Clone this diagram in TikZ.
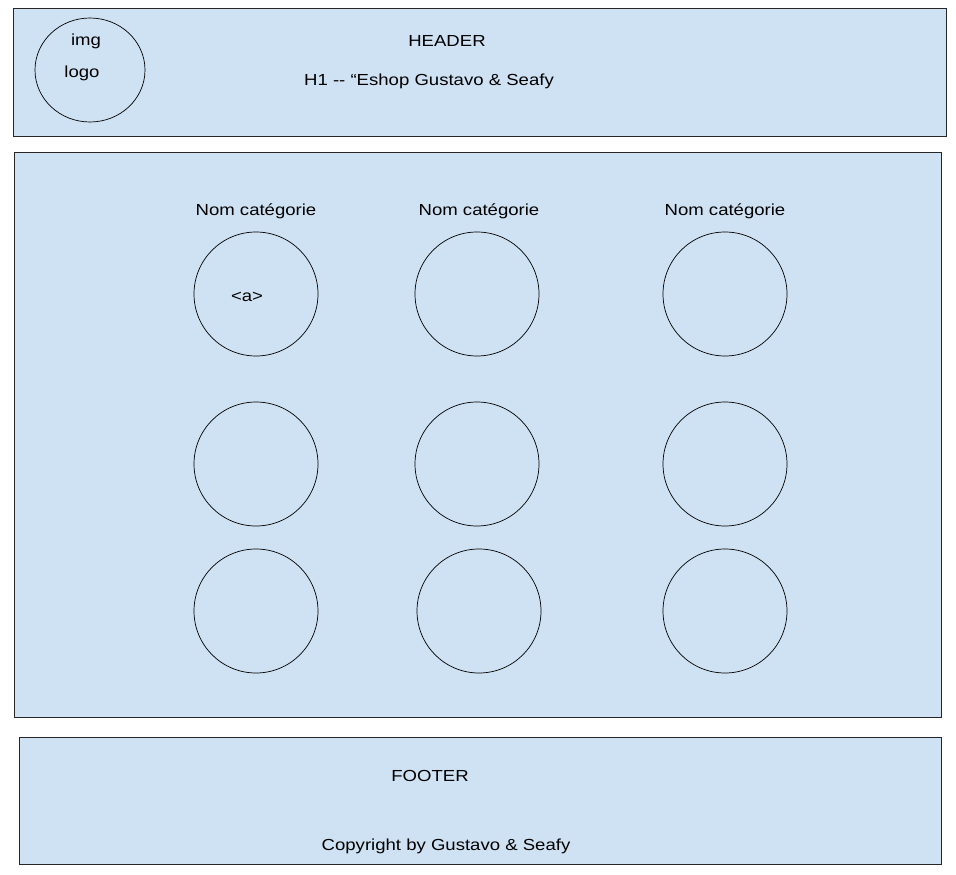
\documentclass[tikz,border=0pt]{standalone}
\usepackage{fontspec}
\setmainfont{Liberation Sans}[FakeStretch=1.16]
\usetikzlibrary{shapes.geometric}
\definecolor{pageblue}{HTML}{CFE2F3}
\begin{document}
\begin{tikzpicture}[x=1pt, y=-1pt, font=\fontsize{16}{19}\selectfont,
  block/.style={draw=black!85, fill=pageblue, line width=.8pt},
  cat/.style={circle, draw, line width=.7pt, minimum size=124pt, inner sep=0pt}]
\useasboundingbox (0,0) rectangle (956,875);
% header
\draw[block](13,8) rectangle (946,136);
\node[ellipse, draw, line width=.7pt, minimum width=110pt, minimum height=104pt, inner sep=0pt] (logo) at (90,70) {};
\node (img) at (86,41) {img};
\node (logotxt) at (82,73) {logo};
\node (head) at (447,41) {HEADER};
\node (title) at (429,81) {H1 {-}{-} “Eshop Gustavo \& Seafy};
% categories
\draw[block](14,152) rectangle (941,717);
\node (nom1) at (256,211) {Nom catégorie};
\node (nom2) at (479,211) {Nom catégorie};
\node (nom3) at (725,211) {Nom catégorie};
\node[cat] (c11) at (256,294) {};
\node[cat] (c12) at (477,294) {};
\node[cat] (c13) at (725,294) {};
\node[cat] (c21) at (256,464) {};
\node[cat] (c22) at (477,464) {};
\node[cat] (c23) at (725,464) {};
\node[cat] (c31) at (256,611) {};
\node[cat] (c32) at (479,611) {};
\node[cat] (c33) at (725,611) {};
\node (atag) at (247,297) {<a>};
% footer
\draw[block](19,737) rectangle (941,864);
\node (foot) at (430,776) {FOOTER};
\node (copy) at (446,846) {Copyright by Gustavo \& Seafy};
\end{tikzpicture}
\end{document}
